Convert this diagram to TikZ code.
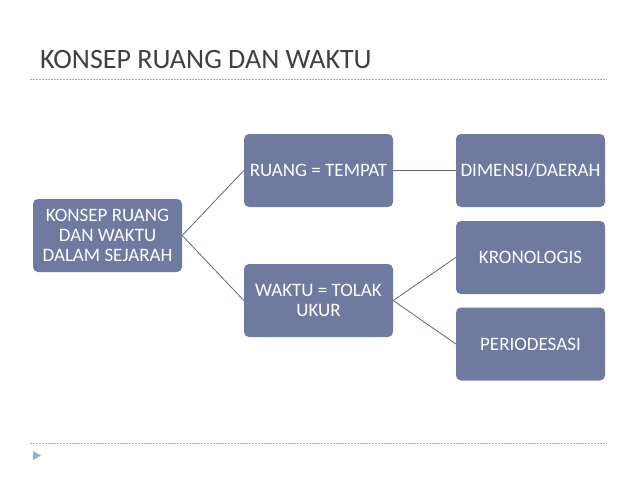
\documentclass[tikz,border=0pt]{standalone}
\usepackage{fontspec}
\setmainfont{Carlito}
\definecolor{biru}{RGB}{110,122,160}
\definecolor{garisbiru}{RGB}{92,102,135}
\definecolor{titik}{RGB}{150,175,198}
\definecolor{judulabu}{RGB}{64,64,64}
\tikzset{
  kotakgaya/.style={fill=biru, rounded corners=5pt, text=white, align=center,
    minimum width=149pt, minimum height=73pt, inner sep=2pt,
    font=\fontsize{19}{20}\selectfont},
  konektor/.style={draw=garisbiru, line width=0.8pt},
  titikgaris/.style={draw=titik, line width=0.8pt, dash pattern=on 1.5pt off 1.5pt}
}
\newcommand{\kotak}[4]{%
    \node[kotakgaya] (#1) at (#2,#3) {#4};
}
\begin{document}
\begin{tikzpicture}[x=1pt,y=-1pt]
        \useasboundingbox (0,0) rectangle (638,479);
        \node[anchor=base west, text=judulabu, font=\fontsize{28}{30}\selectfont, inner sep=0pt] (judul) at (40,68) {KONSEP RUANG DAN WAKTU};
        \draw[titikgaris] (30,79) -- (607,79);
        \draw[titikgaris] (30,443) -- (607,443);
        \fill[titik] (33,451) -- (41,455.5) -- (33,460) -- cycle;
        % #1-nama  #2-x  #3-y  #4-teks
        \kotak{akar}{107.5}{235.5}{KONSEP RUANG\\DAN WAKTU\\DALAM SEJARAH}
        \kotak{ruang}{318.5}{170.5}{RUANG = TEMPAT}
        \kotak{waktu}{318.5}{300.5}{WAKTU = TOLAK\\UKUR}
        \kotak{dimensi}{530.5}{170.5}{DIMENSI/DAERAH}
        \kotak{kronologis}{530.5}{257.5}{KRONOLOGIS}
        \kotak{periodesasi}{530.5}{344}{PERIODESASI}
        \draw[konektor] (akar.east) -- (ruang.west);
        \draw[konektor] (akar.east) -- (waktu.west);
        \draw[konektor] (ruang.east) -- (dimensi.west);
        \draw[konektor] (waktu.east) -- (kronologis.west);
        \draw[konektor] (waktu.east) -- (periodesasi.west);
    \end{tikzpicture}
\end{document}
